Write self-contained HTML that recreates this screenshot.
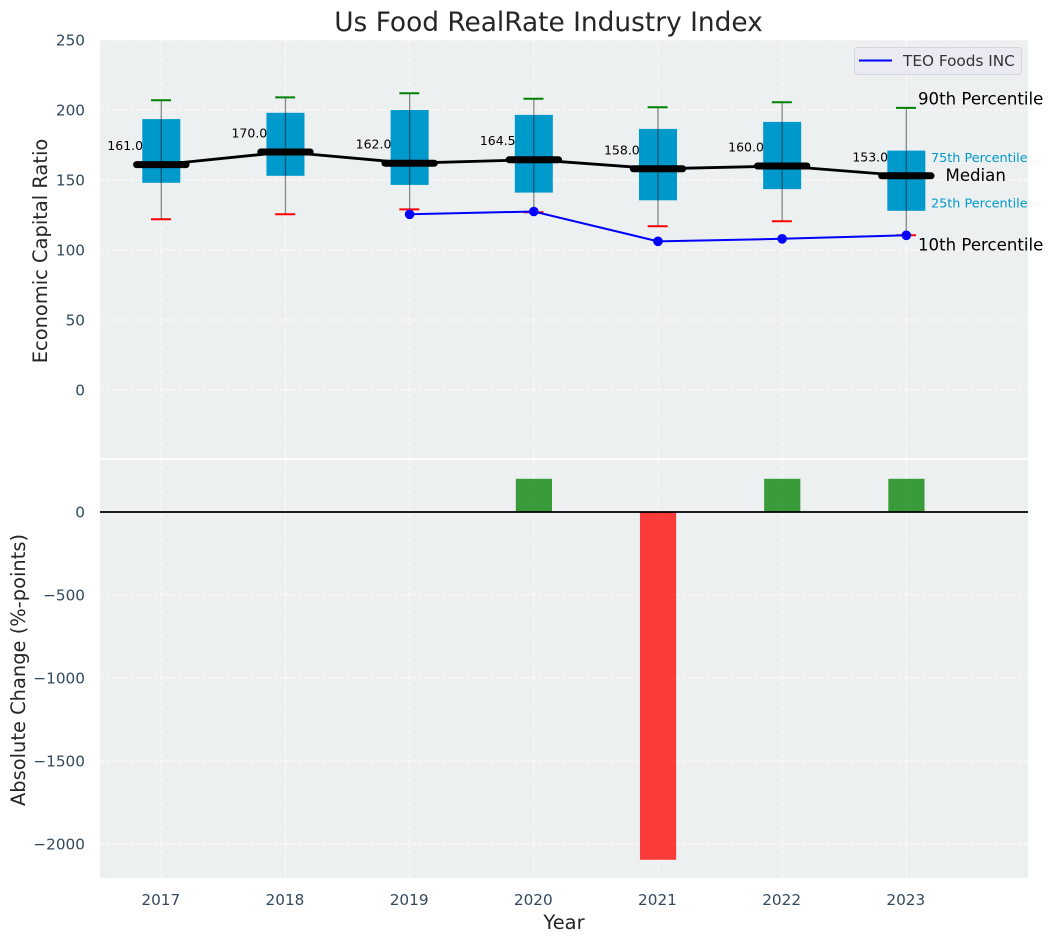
<!DOCTYPE html>
<html lang="en">
<head>
<meta charset="utf-8">
<title>Us Food RealRate Industry Index</title>
<style>
  html, body { margin: 0; padding: 0; background: #ffffff; }
  svg { display: block; font-family: "DejaVu Sans", "Liberation Sans", sans-serif; }
  .tick { font-size: 15.28px; fill: #34495e; }
  .axis-title { font-size: 19.44px; fill: #262626; }
  .value-label { font-size: 12.5px; fill: #000000; }
  .grid { stroke: #ffffff; stroke-width: 1; stroke-dasharray: 4 2; opacity: 0.85; }
</style>
</head>
<body>
<svg id="chart" xmlns="http://www.w3.org/2000/svg" width="1053" height="942" viewBox="0 0 1053 942">
  <rect x="0" y="0" width="1053" height="942" fill="#ffffff"/>
  <rect x="100" y="40" width="928" height="418" fill="#ecf0f1"/>
  <rect x="100" y="460" width="928" height="418" fill="#ecf0f1"/>
  <g id="grid-layer"></g>
  <g id="bar-layer"></g>
  <g id="box-layer"></g>
  <g id="line-layer"></g>
  <g id="tick-layer"></g>
  <g id="note-layer"></g>

  <text x="548.5" y="31" text-anchor="middle" font-size="26.4" fill="#262626">Us Food RealRate Industry Index</text>
  <text class="axis-title" text-anchor="middle" transform="translate(47,251) rotate(-90)">Economic Capital Ratio</text>
  <text class="axis-title" text-anchor="middle" transform="translate(25,670) rotate(-90)">Absolute Change (%-points)</text>
  <text class="axis-title" x="564" y="929" text-anchor="middle">Year</text>

  <g>
    <rect x="854.5" y="47.5" width="167" height="27" rx="3" fill="#eaeaf2" stroke="#d4d6dc" stroke-width="1"/>
    <line x1="859" y1="60.5" x2="892" y2="60.5" stroke="#0000ff" stroke-width="2"/>
    <text x="903" y="66" font-size="15.28" fill="#333333">TEO Foods INC</text>
  </g>
</svg>
<script>
const years = [2017, 2018, 2019, 2020, 2021, 2022, 2023];
const p90 = [207, 209, 212, 208, 202, 205.5, 201.5];
const p75 = [193.5, 198, 200, 196.5, 186.5, 191.5, 171];
const medians = [161, 170, 162, 164.5, 158, 160, 153];
const p25 = [148, 153, 146.5, 141, 135.5, 143.5, 128];
const p10 = [122, 125.5, 129, 127, 117, 120.5, 110.5];
const teoYears = [2019, 2020, 2021, 2022, 2023];
const teoValues = [125.5, 127.5, 106.2, 108, 110.5];
const changeYears = [2020, 2021, 2022, 2023];
const changeValues = [200, -2095, 200, 200];
const topTicks = [0, 50, 100, 150, 200, 250];
const bottomTicks = [0, -500, -1000, -1500, -2000];

const NS = 'http://www.w3.org/2000/svg';
function xScale(year) { return 161.3 + (year - 2017) * 124.17; }
function yTop(v) { return 40 + (250 - v) * 1.4; }
function yBottom(v) { return 512 - v * 0.166; }
function make(tag, parentId, attrs) {
  const el = document.createElementNS(NS, tag);
  for (const k in attrs) el.setAttribute(k, attrs[k]);
  document.getElementById(parentId).appendChild(el);
  return el;
}
function formatTick(v) { return String(v).replace('-', '\u2212'); }

/* grid */
years.forEach(function (yr) {
  const g1 = make('line', 'grid-layer', { x1: xScale(yr), x2: xScale(yr), y1: 40, y2: 458, class: 'grid' });
  
  
  const g2 = make('line', 'grid-layer', { x1: xScale(yr), x2: xScale(yr), y1: 460, y2: 878, class: 'grid' });
  
  
  const t = make('text', 'tick-layer', { x: xScale(yr) - 0.5, y: 905, 'text-anchor': 'middle', class: 'tick' });
  t.textContent = String(yr);
  
  
});
topTicks.forEach(function (v) {
  const g = make('line', 'grid-layer', { x1: 100, x2: 1028, y1: yTop(v), y2: yTop(v), class: 'grid' });
  
  
  const t = make('text', 'tick-layer', { x: 85, y: yTop(v) + 5.5, 'text-anchor': 'end', class: 'tick' });
  t.textContent = formatTick(v);
  
  
});
bottomTicks.forEach(function (v) {
  const g = make('line', 'grid-layer', { x1: 100, x2: 1028, y1: yBottom(v), y2: yBottom(v), class: 'grid' });
  
  
  const t = make('text', 'tick-layer', { x: 85, y: yBottom(v) + 5.5, 'text-anchor': 'end', class: 'tick' });
  t.textContent = formatTick(v);
  
  
});

/* change bars */
changeYears.forEach(function (yr, i) {
  const v = changeValues[i];
  const y0 = yBottom(0);
  const y1 = yBottom(v);
  const bar = make('rect', 'bar-layer', {
    x: xScale(yr) - 18, width: 36.2,
    y: Math.min(y0, y1), height: Math.abs(y1 - y0),
    fill: v >= 0 ? '#008000' : '#ff0000', 'fill-opacity': 0.76
  });
  
  
});
const zero = make('line', 'bar-layer', { x1: 100, x2: 1028, y1: yBottom(0), y2: yBottom(0), stroke: '#000000', 'stroke-width': 1.7 });



/* boxes and whiskers */
years.forEach(function (yr, i) {
  const cx = xScale(yr);
  const box = make('rect', 'box-layer', {
    x: cx - 19, width: 38, y: yTop(p75[i]), height: yTop(p25[i]) - yTop(p75[i]), fill: '#0099cc'
  });
  
  
  const whisker = make('line', 'box-layer', {
    x1: cx, x2: cx, y1: yTop(p90[i]), y2: yTop(p10[i]), stroke: '#000000', 'stroke-opacity': 0.45, 'stroke-width': 1.3
  });
  
  
  const capHigh = make('line', 'box-layer', {
    x1: cx - 10.3, x2: cx + 9.7, y1: yTop(p90[i]), y2: yTop(p90[i]), stroke: '#008000', 'stroke-width': 2
  });
  
  
  const capLow = make('line', 'box-layer', {
    x1: cx - 10.3, x2: cx + 9.7, y1: yTop(p10[i]), y2: yTop(p10[i]), stroke: '#ff0000', 'stroke-width': 2
  });
  
  
});

/* median line */
const medianLine = make('polyline', 'line-layer', {
  points: years.map(function (yr, i) { return xScale(yr) + ',' + yTop(medians[i]); }).join(' '),
  fill: 'none', stroke: '#000000', 'stroke-width': 2.8
});



years.forEach(function (yr, i) {
  const cx = xScale(yr);
  const cy = yTop(medians[i]);
  const bar = make('line', 'line-layer', {
    x1: cx - 24.7, x2: cx + 24.7, y1: cy, y2: cy, stroke: '#000000', 'stroke-width': 7, 'stroke-linecap': 'round'
  });
  
  
  const label = make('text', 'note-layer', {
    x: cx - 18.2, y: cy - 14.5, 'text-anchor': 'end', class: 'value-label'
  });
  label.textContent = medians[i].toFixed(1);
  
  
});

/* company series */
const teoLine = make('polyline', 'line-layer', {
  points: teoYears.map(function (yr, i) { return xScale(yr) + ',' + yTop(teoValues[i]); }).join(' '),
  fill: 'none', stroke: '#0000ff', 'stroke-width': 2
});


teoYears.forEach(function (yr, i) {
  const dot = make('circle', 'line-layer', { cx: xScale(yr), cy: yTop(teoValues[i]), r: 4.8, fill: '#0000ff' });
  
  
});

/* annotations on the final year */
const last = years.length - 1;
const note90 = make('text', 'note-layer', { x: 918, y: yTop(p90[last]) - 3.5, 'font-size': 16.6, fill: '#000000' });
note90.textContent = '90th Percentile';


const note75 = make('text', 'note-layer', { x: 931, y: yTop(p75[last]) + 11.5, 'font-size': 12.8, fill: '#0099cc' });
note75.textContent = '75th Percentile';


const noteMed = make('text', 'note-layer', { x: 945.5, y: yTop(medians[last]) + 5, 'font-size': 16.6, fill: '#000000' });
noteMed.textContent = 'Median';


const note25 = make('text', 'note-layer', { x: 931, y: yTop(p25[last]) - 3.5, 'font-size': 12.8, fill: '#0099cc' });
note25.textContent = '25th Percentile';


const note10 = make('text', 'note-layer', { x: 918, y: yTop(p10[last]) + 15, 'font-size': 16.6, fill: '#000000' });
note10.textContent = '10th Percentile';


</script>
</body>
</html>
